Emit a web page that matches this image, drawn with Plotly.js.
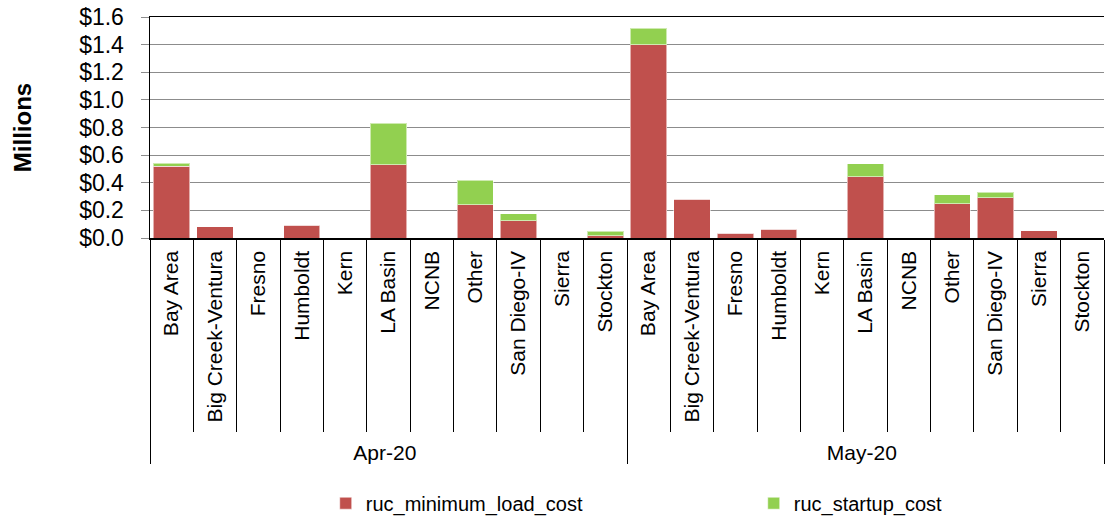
<!DOCTYPE html>
<html>
<head>
<meta charset="utf-8">
<script src="https://cdn.plot.ly/plotly-3.0.1.min.js"></script>
<style>
html,body{margin:0;padding:0;background:#fff;}
#chart{width:1105px;height:518px;}
</style>
</head>
<body>
<div id="chart"></div>
<script>
const months = ['Apr-20', 'May-20'];
const regions = ['Bay Area','Big Creek-Ventura','Fresno','Humboldt','Kern','LA Basin','NCNB','Other','San Diego-IV','Sierra','Stockton'];
const minLoadApr = [0.520, 0.082, 0, 0.092, 0, 0.531, 0, 0.241, 0.125, 0, 0.015];
const startupApr = [0.021, 0, 0, 0, 0, 0.299, 0, 0.177, 0.051, 0, 0.035];
const minLoadMay = [1.400, 0.280, 0.034, 0.063, 0, 0.444, 0, 0.249, 0.292, 0.053, 0];
const startupMay = [0.120, 0, 0, 0, 0.003, 0.092, 0, 0.065, 0.041, 0, 0];
const seriesNames = ['ruc_minimum_load_cost', 'ruc_startup_cost'];
const seriesColors = ['#C0504D', '#92D050'];

const outer = [], inner = [];
months.forEach(m => regions.forEach(r => { outer.push(m); inner.push(r); }));
const minLoad = minLoadApr.concat(minLoadMay);
const startup = startupApr.concat(startupMay);

const font = 'Liberation Sans, Arial, sans-serif';
const traces = [minLoad, startup].map((vals, i) => ({
  type: 'bar',
  name: seriesNames[i],
  x: [outer, inner],
  y: vals,
  marker: {color: seriesColors[i], line: {color: 'rgba(255,255,255,0.55)', width: 1}},
  hoverinfo: 'x+y+name'
}));

const layout = {
  width: 1105, height: 518,
  margin: {l: 150, r: 1, t: 17, b: 280, autoexpand: false},
  paper_bgcolor: '#fff', plot_bgcolor: '#fff',
  barmode: 'stack',
  bargap: 0.16,
  font: {family: font, color: '#000'},
  xaxis: {
    type: 'multicategory',
    automargin: false,
    tickangle: -90,
    tickfont: {size: 21, family: font, color: '#000'},
    ticks: 'outside', tickson: 'boundaries', ticklen: 192, tickcolor: '#000', tickwidth: 1,
    ticklabelstandoff: 3,
    showline: true, linecolor: '#000', linewidth: 1.5, mirror: true,
    showdividers: true, dividercolor: '#000', dividerwidth: 1,
    showgrid: false
  },
  yaxis: {
    automargin: false,
    range: [0, 1.6], dtick: 0.2, tickprefix: '$', tickformat: '.1f',
    tickfont: {size: 23, family: font, color: '#000'},
    ticks: 'outside', ticklen: 8, tickcolor: '#8c8c8c', tickwidth: 1,
    ticklabelstandoff: 12,
    showgrid: true, gridcolor: '#8c8c8c', gridwidth: 1,
    showline: true, linecolor: '#000', linewidth: 1.5,
    zeroline: false,
    title: {text: 'Millions', font: {size: 24, family: font, color: '#000', weight: 'bold'}, standoff: 40}
  },
  showlegend: true,
  legend: {
    orientation: 'h', x: 0.1842, xanchor: 'left', y: -1.2, yanchor: 'middle',
    font: {size: 20, family: font, color: '#000'},
    entrywidth: 383, entrywidthmode: 'pixels',
    traceorder: 'normal'
  }
};

Plotly.newPlot('chart', traces, layout, {displayModeBar: false, staticPlot: true});
</script>
</body>
</html>
